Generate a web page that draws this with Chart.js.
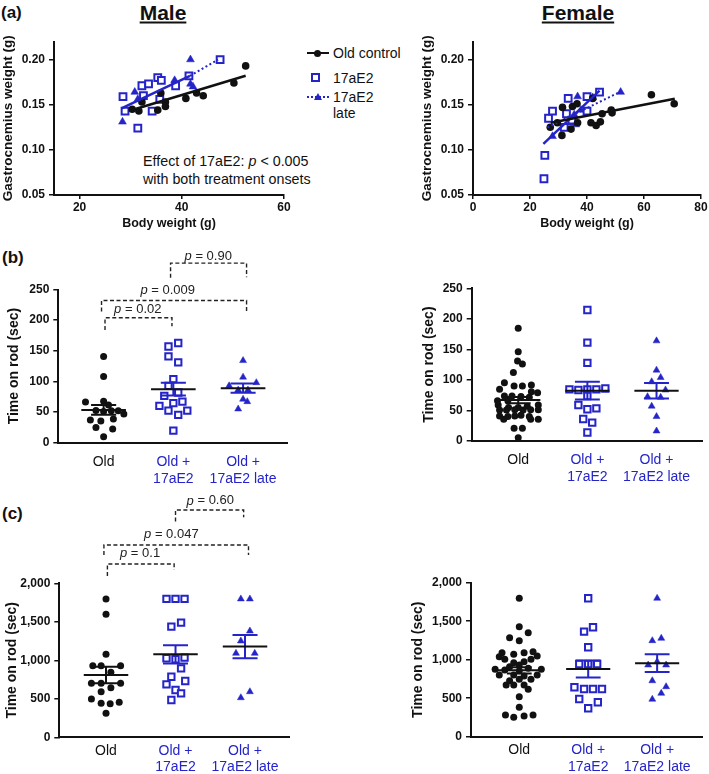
<!DOCTYPE html>
<html>
<head>
<meta charset="utf-8">
<title>17aE2 gastrocnemius and rotarod</title>
<script src="https://cdn.jsdelivr.net/npm/chart.js@4.4.1/dist/chart.umd.min.js"></script>
<style>
  html, body { margin: 0; padding: 0; background: #fff; }
  body { position: relative; width: 709px; height: 774px; overflow: hidden;
         font-family: "Liberation Sans", Arial, Helvetica, sans-serif; color: #111; }
  canvas { position: absolute; }
  .t { position: absolute; white-space: nowrap; transform: translateY(-50%); line-height: 1; }
  .panel { font-weight: bold; font-size: 17px; }
  .head { font-weight: bold; font-size: 21px; text-decoration: underline; transform: translate(-50%, -50%); }
  .leg { font-size: 14px; }
  .note { font-size: 14.3px; }
  .mk { position: absolute; box-sizing: content-box; }
</style>
</head>
<body>
<div class="t panel" style="left:1px;top:12px">(a)</div>
<div class="t head" style="left:163px;top:12px">Male</div>
<div class="t head" style="left:578px;top:12px">Female</div>
<div class="t panel" style="left:2px;top:257px">(b)</div>
<div class="t panel" style="left:2px;top:513px">(c)</div>

<!-- legend of panel (a) -->
<div class="mk" style="left:307px;top:52.3px;width:22px;height:0;border-top:2px solid #111"></div>
<div class="mk" style="left:314px;top:49.8px;width:7px;height:7px;border-radius:50%;background:#111"></div>
<div class="t leg" style="left:333px;top:53.3px">Old control</div>
<div class="mk" style="left:310.5px;top:73.2px;width:5px;height:5px;border:2px solid #2424c8"></div>
<div class="t leg" style="left:333px;top:77.7px">17aE2</div>
<div class="mk" style="left:307px;top:95.7px;width:22px;height:0;border-top:2px dotted #2424c8"></div>
<div class="mk" style="left:313.5px;top:92.7px;width:0;height:0;border-left:4px solid transparent;border-right:4px solid transparent;border-bottom:7px solid #2424c8"></div>
<div class="t leg" style="left:333px;top:96.7px">17aE2</div>
<div class="t leg" style="left:333px;top:113.3px">late</div>

<div class="t note" style="left:143px;top:161px">Effect of 17aE2: <i>p</i> &lt; 0.005</div>
<div class="t note" style="left:143px;top:179px">with both treatment onsets</div>

<canvas id="aMale" width="300" height="210" style="left:0;top:30px"></canvas>
<canvas id="aFemale" width="309" height="210" style="left:400px;top:30px"></canvas>
<canvas id="bMale" width="300" height="265" style="left:0;top:240px"></canvas>
<canvas id="bFemale" width="309" height="265" style="left:400px;top:240px"></canvas>
<canvas id="cMale" width="300" height="284" style="left:0;top:490px"></canvas>
<canvas id="cFemale" width="309" height="284" style="left:400px;top:490px"></canvas>

<script>
const BLUE = '#2424c8';
const INK = '#111111';
const FONT = "'Liberation Sans', Arial, Helvetica, sans-serif";

// ---- (a) body weight (g) vs gastrocnemius weight (g) ----
const maleOldBW = [30.3, 31.6, 32.2, 35.3, 35.9, 36.8, 36.8, 40.8, 42.9, 44.2, 50.2, 52.5];
const maleOldGW = [0.145, 0.143, 0.153, 0.144, 0.163, 0.153, 0.148, 0.157, 0.163, 0.160, 0.174, 0.193];
const male17BW = [28.5, 28.9, 31.4, 32.2, 32.5, 33.5, 34.2, 35.3, 36.0, 35.7, 38.8, 41.4, 47.5];
const male17GW = [0.159, 0.143, 0.124, 0.171, 0.160, 0.173, 0.143, 0.180, 0.177, 0.156, 0.171, 0.182, 0.200];
const maleLateBW = [28.4, 30.8, 31.4, 38.6, 41.7, 41.7, 42.2];
const maleLateGW = [0.131, 0.164, 0.156, 0.177, 0.200, 0.173, 0.170];
const maleFitOld = [[29.8, 0.1433], [52.5, 0.182]];
const maleFit17 = [[28.2, 0.146], [41.6, 0.182]];
const maleFitLate = [[41.6, 0.182], [47.1, 0.200]];

const femOldBW = [27.1, 29.6, 31.4, 31.2, 34.4, 34.9, 36.5, 36.7, 41.4, 42.0, 43.2, 44.7, 45.3, 48.5, 48.8, 62.6, 70.6];
const femOldGW = [0.125, 0.130, 0.147, 0.116, 0.123, 0.148, 0.151, 0.130, 0.130, 0.157, 0.127, 0.131, 0.140, 0.144, 0.141, 0.161, 0.151];
const fem17BW = [24.9, 25.2, 26.5, 27.9, 32.8, 33.4, 32.0, 34.7, 40.0, 40.0, 44.4];
const fem17GW = [0.068, 0.094, 0.135, 0.143, 0.140, 0.157, 0.125, 0.133, 0.159, 0.143, 0.164];
const femLateBW = [27.9, 34.4, 36.1, 36.7, 37.9, 42.0, 51.8, 35.5];
const femLateGW = [0.115, 0.130, 0.128, 0.159, 0.144, 0.158, 0.164, 0.139];
const femFitOld = [[27.3, 0.130], [70.8, 0.1567]];
const femFit17 = [[24.7, 0.1067], [44.4, 0.1655]];
const femFitLate = [[26.1, 0.1248], [52.0, 0.1648]];

const gwTicks = [0.05, 0.10, 0.15, 0.20];
const bwTicksMale = [20, 40, 60];
const bwTicksFemale = [0, 20, 40, 60, 80];

// ---- groups ----
const groupLabels = [['Old'], ['Old +', '17aE2'], ['Old +', '17aE2 late']];

// ---- (b) time on rod (sec), offsets = horizontal spread inside a group ----
const bMaleOld = [140.8, 108, 66.6, 67.8, 61.7, 52.4, 50.8, 52, 52, 47, 37, 35.5, 38.8, 25, 22.4, 9.8];
const bMaleOldOff = [0, 0, -0.26, 0, 0.07, -0.11, 0, 0.11, 0.21, 0.29, -0.19, -0.04, 0.14, -0.11, 0.13, 0];
const bMale17 = [157, 162.7, 140.8, 131, 103.8, 92.8, 81.9, 76.5, 67, 64.5, 60, 52.4, 52.4, 45.3, 19.6];
const bMale17Off = [-0.07, 0.07, -0.07, 0.07, 0, -0.07, 0.07, -0.13, 0.13, 0, -0.2, -0.07, 0.2, 0.07, 0];
const bMaleLate = [134, 107, 98, 92.8, 86, 86, 71, 67, 55];
const bMaleLateOff = [0, 0, 0.19, -0.2, -0.07, 0.07, 0, 0.06, -0.07];
const bMaleMean = [53.5, 87.4, 89];
const bMaleSem = [8, 10.5, 7.5];

const bFemOld = [184.5, 146, 131, 126, 112, 95.5, 90, 90, 91.7, 84.6, 80.8, 79, 73.7, 73.7, 73, 71.5, 66, 66, 59, 55,
  55, 57, 59, 50.7, 50.7, 51, 50.7, 51, 51, 41, 40, 41, 42, 40, 35.5, 35.5, 35.5, 20.8, 20.8, 5.4];
const bFemOldOff = [0, 0, -0.01, 0.06, -0.07, -0.2, -0.06, 0.06, 0.19, -0.27, 0.19, 0.28, -0.2, -0.09, 0.04, 0.16, -0.3, -0.15, -0.29, -0.14,
  0, 0.13, 0.29, -0.27, -0.17, -0.05, 0.07, 0.18, 0.29, -0.27, -0.15, -0.05, 0.04, 0.16, -0.21, 0.18, 0.29, -0.06, 0.06, 0];
const bFem17 = [214.5, 161, 128, 84.6, 83.5, 84.6, 73.7, 84.6, 86, 59, 52, 53.5, 36, 30, 14];
const bFem17Off = [0, 0, 0, -0.26, -0.13, 0, 0, 0.13, 0.26, -0.13, 0, 0.13, -0.06, 0.07, 0];
const bFemLate = [164, 116, 104, 97, 83.5, 72.5, 71.5, 57, 40, 16.4];
const bFemLateOff = [0, 0, 0.06, -0.07, 0.13, -0.13, 0.06, -0.07, 0, 0];
const bFemMean = [67, 82.4, 82.4];
const bFemSem = [5, 14.5, 12.7];

const bTicks = [0, 50, 100, 150, 200, 250];
const bBrX1 = [1.02, 0.97, 1.96];
const bBrX2 = [1.98, 3.05, 3.05];
const bBrTop = [204, 232, 293];
const bBrLeftEnd = [184, 214, 269];
const bBrRightEnd = [190, 215, 270];
const bP = ['0.02', '0.009', '0.90'];
const bPx = [1.49, 1.92, 2.5];
const bPy = [217, 248, 304];

// ---- (c) time on rod (sec) ----
const cMaleOld = [1797, 1598, 1078, 930, 930, 930, 844, 701, 701, 644, 701, 592, 497, 441, 436, 454, 312];
const cMaleOldOff = [0, 0, 0, -0.19, -0.07, 0.21, 0.07, -0.21, -0.07, 0.07, 0.21, -0.07, -0.21, -0.07, 0.06, 0.19, 0];
const cMale17 = [1797, 1797, 1797, 1437, 1489, 1026, 1013, 1034, 896, 787, 688, 731, 614, 571, 485];
const cMale17Off = [-0.13, 0, 0.13, -0.06, 0.08, -0.13, 0, 0.13, 0.08, -0.06, -0.13, 0.14, 0, 0.08, -0.06];
const cMaleLate = [1797, 1797, 1381, 1251, 1091, 1091, 514, 592];
const cMaleLateOff = [-0.06, 0.07, 0.07, -0.06, -0.13, 0.14, -0.06, 0.07];
const cMaleMean = [809, 1078, 1178];
const cMaleSem = [108, 119, 150];

const cFemOld = [1798, 1429, 1351, 1286, 1247, 1091, 1070, 1091, 1104, 1048, 1039, 1005, 961, 974, 1005, 909, 931, 875, 866, 857,
  888, 875, 801, 801, 788, 801, 727, 745, 745, 671, 671, 671, 616, 520, 382, 282, 252, 269, 282];
const cFemOldOff = [0, 0, 0.13, -0.14, 0, -0.25, -0.08, 0.07, 0.2, 0.26, -0.29, -0.21, -0.08, 0.07, 0.17, -0.14, 0, -0.35, -0.21, 0,
  0.13, 0.32, -0.29, -0.08, 0.07, 0.26, -0.14, 0, 0.17, -0.19, -0.08, 0.07, 0.13, 0, 0, -0.2, -0.08, 0.07, 0.2];
const cFem17 = [1798, 1364, 1421, 1161, 944, 931, 944, 944, 642, 620, 620, 620, 490, 447, 369];
const cFem17Off = [0, -0.06, 0.07, 0, -0.13, 0, 0, 0.13, -0.2, -0.06, 0.07, 0.2, -0.13, 0.14, 0];
const cFemLate = [1798, 1247, 1278, 974, 931, 931, 727, 649, 564, 486];
const cFemLateOff = [0, -0.07, 0.06, 0, -0.13, 0.13, -0.07, 0.13, 0.06, -0.07];
const cFemMean = [862, 879, 955];
const cFemSem = [40, 110, 115];

const cTicks = [0, 500, 1000, 1500, 2000];
const cBrX1 = [1.02, 0.97, 2.0];
const cBrX2 = [1.98, 3.05, 2.98];
const cBrTop = [2251, 2498, 2952];
const cBrLeftEnd = [2095, 2368, 2801];
const cBrRightEnd = [2173, 2368, 2857];
const cP = ['0.1', '0.047', '0.60'];
const cPx = [1.49, 1.94, 2.5];
const cPy = [2390, 2637, 3070];

// ---------- helpers ----------
function pairs(xs, ys) { return xs.map((x, i) => ({ x: x, y: ys[i] })); }
function dots(cat, vals, offs) { return vals.map((v, i) => ({ x: cat + offs[i], y: v })); }

const markOld = { pointStyle: 'circle', backgroundColor: INK, borderColor: INK, borderWidth: 0 };
const mark17 = { pointStyle: 'rect', backgroundColor: '#fff', borderColor: BLUE, borderWidth: 2 };
const markLate = { pointStyle: 'triangle', backgroundColor: BLUE, borderColor: BLUE, borderWidth: 0.5 };

function pointSet(data, mark, r) {
  return Object.assign({ data: data, pointRadius: r, pointHoverRadius: r, order: 2 }, mark);
}

function lineSet(data, color, width, dash, noClip) {
  const ds = { data: data, showLine: true, borderColor: color, borderWidth: width, borderDash: dash || [],
    pointRadius: 0, pointHoverRadius: 0, fill: false, order: 0 };
  if (noClip) ds.clip = false;
  return ds;
}

function fitLine(pts, color, width, dash) {
  return lineSet(pts.map(p => ({ x: p[0], y: p[1] })), color, width, dash);
}

function meanSem(cat, m, s, col) {
  const w = 0.32, c = 0.18;
  return [
    lineSet([{ x: cat - w, y: m }, { x: cat + w, y: m }], INK, 2),
    lineSet([
      { x: cat - c, y: m + s }, { x: cat + c, y: m + s }, { x: cat + c, y: null },
      { x: cat, y: m + s }, { x: cat, y: m - s }, { x: cat, y: null },
      { x: cat - c, y: m - s }, { x: cat + c, y: m - s }
    ], col, 2)
  ];
}

function brackets(x1, x2, top, lEnd, rEnd) {
  const d = [];
  x1.forEach((a, i) => {
    d.push({ x: a, y: lEnd[i] }, { x: a, y: top[i] }, { x: x2[i], y: top[i] }, { x: x2[i], y: rEnd[i] }, { x: x2[i], y: null });
  });
  return lineSet(d, '#222', 1.4, [4, 2.5], true);
}

// p value texts drawn at data coordinates
const pvalPlugin = {
  id: 'pvals',
  afterDatasetsDraw(chart, args, opts) {
    if (!opts || !opts.values) return;
    const ctx = chart.ctx, xs = chart.scales.x, ys = chart.scales.y;
    opts.values.forEach((txt, i) => {
      const px = xs.getPixelForValue(opts.xs[i]);
      const py = ys.getPixelForValue(opts.ys[i]);
      const rest = ' = ' + txt;
      ctx.save();
      ctx.fillStyle = '#222';
      ctx.textBaseline = 'middle';
      ctx.textAlign = 'left';
      ctx.font = 'italic 13px ' + FONT;
      const w1 = ctx.measureText('p').width;
      ctx.font = '13px ' + FONT;
      const w2 = ctx.measureText(rest).width;
      const sx = px - (w1 + w2) / 2;
      ctx.font = 'italic 13px ' + FONT;
      ctx.fillText('p', sx, py);
      ctx.font = '13px ' + FONT;
      ctx.fillText(rest, sx + w1, py);
      ctx.restore();
    });
  }
};

function valueAxis(o) {
  return {
    type: 'linear', min: o.min, max: o.max,
    afterBuildTicks: s => { s.ticks = o.ticks.map(v => ({ value: v })); },
    afterFit: s => { s.width = o.width; },
    ticks: { callback: o.fmt, color: INK, padding: 4, font: { family: FONT, size: o.tickSize, weight: 'bold' } },
    grid: { drawOnChartArea: false, drawTicks: true, tickLength: 5, color: INK, lineWidth: 1.5 },
    border: { color: INK, width: 2 },
    title: { display: true, text: o.title, color: INK, padding: { top: o.titlePad, bottom: 0 },
      font: { family: FONT, size: o.titleSize, weight: 'bold' } }
  };
}

function bodyAxis(o) {
  return {
    type: 'linear', min: o.min, max: o.max,
    afterBuildTicks: s => { s.ticks = o.ticks.map(v => ({ value: v })); },
    afterFit: s => { s.height = o.height; },
    ticks: { callback: v => String(v), color: INK, padding: 1, maxRotation: 0,
      font: { family: FONT, size: 12, weight: 'bold' } },
    grid: { drawOnChartArea: false, drawTicks: true, tickLength: 4, color: INK, lineWidth: 1.5 },
    border: { color: INK, width: 2 },
    title: { display: true, text: 'Body weight (g)', color: INK, padding: { top: 0, bottom: 0 },
      font: { family: FONT, size: 12.5, weight: 'bold' } }
  };
}

function groupAxis(o) {
  return {
    type: 'linear', min: o.min, max: o.max,
    afterBuildTicks: s => { s.ticks = [1, 2, 3].map(v => ({ value: v })); },
    afterFit: s => { s.height = o.height; },
    ticks: { callback: v => groupLabels[v - 1], color: c => (c.index === 0 ? INK : BLUE), padding: o.pad,
      autoSkip: false, maxRotation: 0, font: { family: FONT, size: 14, lineHeight: 1.2 } },
    grid: { display: true, drawOnChartArea: false, drawTicks: false },
    border: { color: INK, width: 2 }
  };
}

function makeChart(id, datasets, pad, scales, pvals) {
  return new Chart(document.getElementById(id), {
    type: 'scatter',
    data: { datasets: datasets },
    options: {
      responsive: false, animation: false, events: [],
      layout: { padding: pad },
      plugins: { legend: { display: false }, tooltip: { enabled: false }, pvals: pvals || {} },
      scales: scales
    },
    plugins: [pvalPlugin]
  });
}

// ---------- (a) ----------
const gwFmt = v => v.toFixed(2);
makeChart('aMale', [
  fitLine(maleFitOld, INK, 2.5),
  fitLine(maleFit17, BLUE, 2.5),
  fitLine(maleFitLate, BLUE, 2, [2, 2.5]),
  pointSet(pairs(maleOldBW, maleOldGW), markOld, 3.8),
  pointSet(pairs(male17BW, male17GW), mark17, 4.8),
  pointSet(pairs(maleLateBW, maleLateGW), markLate, 4.5)
], { left: 0, top: 11.5, right: 16, bottom: 8.5 }, {
  x: bodyAxis({ min: 15, max: 60, ticks: bwTicksMale, height: 36.5 }),
  y: valueAxis({ min: 0.05, max: 0.22, ticks: gwTicks, fmt: gwFmt, width: 54, tickSize: 12,
    title: 'Gastrocnemius weight (g)', titleSize: 13.5, titlePad: 0 })
});

makeChart('aFemale', [
  fitLine(femFitOld, INK, 2.5),
  fitLine(femFit17, BLUE, 2.5),
  fitLine(femFitLate, BLUE, 2, [2, 2.5]),
  pointSet(pairs(femOldBW, femOldGW), markOld, 3.8),
  pointSet(pairs(fem17BW, fem17GW), mark17, 4.8),
  pointSet(pairs(femLateBW, femLateGW), markLate, 4.5)
], { left: 0, top: 11.5, right: 8, bottom: 8.5 }, {
  x: bodyAxis({ min: 0, max: 80, ticks: bwTicksFemale, height: 36.5 }),
  y: valueAxis({ min: 0.05, max: 0.22, ticks: gwTicks, fmt: gwFmt, width: 73, tickSize: 12,
    title: 'Gastrocnemius weight (g)', titleSize: 13.5, titlePad: 19 })
});

// ---------- dot plots ----------
function dotSets(old, oldOff, e2, e2Off, late, lateOff, mean, sem) {
  return [].concat(
    meanSem(1, mean[0], sem[0], INK),
    meanSem(2, mean[1], sem[1], BLUE),
    meanSem(3, mean[2], sem[2], BLUE),
    [pointSet(dots(1, old, oldOff), markOld, 3.5),
     pointSet(dots(2, e2, e2Off), mark17, 4.5),
     pointSet(dots(3, late, lateOff), markLate, 4)]
  );
}

const rodTitle = 'Time on rod (sec)';

makeChart('bMale',
  dotSets(bMaleOld, bMaleOldOff, bMale17, bMale17Off, bMaleLate, bMaleLateOff, bMaleMean, bMaleSem)
    .concat([brackets(bBrX1, bBrX2, bBrTop, bBrLeftEnd, bBrRightEnd)]),
  { left: 0, top: 49.5, right: 13, bottom: 12.3 }, {
  x: groupAxis({ min: 0.35, max: 3.63, height: 50, pad: 11 }),
  y: valueAxis({ min: 0, max: 250, ticks: bTicks, fmt: v => String(v), width: 58.3, tickSize: 12,
    title: rodTitle, titleSize: 14, titlePad: 5.6 })
}, { values: bP, xs: bPx, ys: bPy });

makeChart('bFemale',
  dotSets(bFemOld, bFemOldOff, bFem17, bFem17Off, bFemLate, bFemLateOff, bFemMean, bFemSem),
  { left: 0, top: 48.3, right: 6.3, bottom: 14 }, {
  x: groupAxis({ min: 0.327, max: 3.665, height: 50, pad: 11 }),
  y: valueAxis({ min: 0, max: 250, ticks: bTicks, fmt: v => String(v), width: 71.7, tickSize: 12,
    title: rodTitle, titleSize: 14, titlePad: 20.6 })
});

const commaFmt = v => v.toLocaleString('en-US');

makeChart('cMale',
  dotSets(cMaleOld, cMaleOldOff, cMale17, cMale17Off, cMaleLate, cMaleLateOff, cMaleMean, cMaleSem)
    .concat([brackets(cBrX1, cBrX2, cBrTop, cBrLeftEnd, cBrRightEnd)]),
  { left: 0, top: 93.3, right: 10.7, bottom: 0 }, {
  x: groupAxis({ min: 0.328, max: 3.637, height: 36.7, pad: 5 }),
  y: valueAxis({ min: 0, max: 2000, ticks: cTicks, fmt: commaFmt, width: 59.3, tickSize: 12,
    title: rodTitle, titleSize: 14, titlePad: 3.3 })
}, { values: cP, xs: cPx, ys: cPy });

makeChart('cFemale',
  dotSets(cFemOld, cFemOldOff, cFem17, cFem17Off, cFemLate, cFemLateOff, cFemMean, cFemSem),
  { left: 0, top: 92.7, right: 6.3, bottom: 0 }, {
  x: groupAxis({ min: 0.3, max: 3.658, height: 37.3, pad: 5 }),
  y: valueAxis({ min: 0, max: 2000, ticks: cTicks, fmt: commaFmt, width: 71, tickSize: 12,
    title: rodTitle, titleSize: 14, titlePad: 9.9 })
});
</script>
</body>
</html>
